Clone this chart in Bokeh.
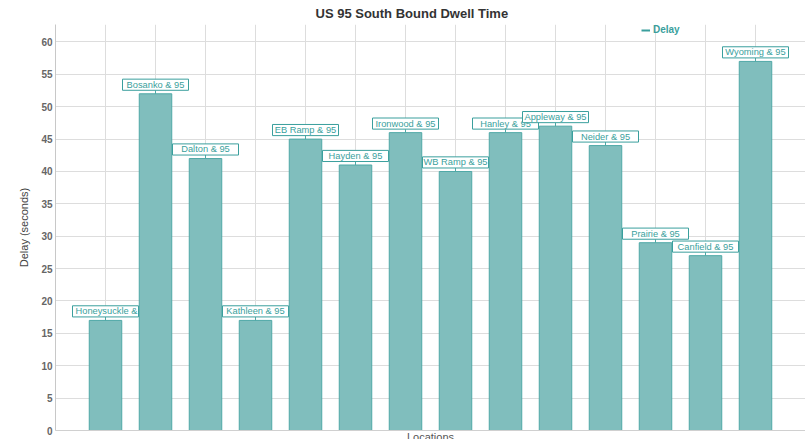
from bokeh.plotting import figure
from bokeh.models import (ColumnDataSource, CDSView, IndexFilter, Range1d,
                          FixedTicker, Legend, LegendItem)
from bokeh.embed import file_html
from bokeh.resources import INLINE
from bokeh.core.properties import value

locations = ["Honeysuckle & 95", "Bosanko & 95", "Dalton & 95", "Kathleen & 95",
             "EB Ramp & 95", "Hayden & 95", "Ironwood & 95", "WB Ramp & 95",
             "Hanley & 95", "Appleway & 95", "Neider & 95", "Prairie & 95",
             "Canfield & 95", "Wyoming & 95"]
delay = [17, 52, 42, 17, 45, 41, 46, 40, 46, 47, 44, 29, 27, 57]
positions = list(range(1, len(locations) + 1))
y_ticks = list(range(0, 61, 5))
x_grid = list(range(0, len(locations) + 2))

FONT = "Liberation Sans"
FILL = "#80bebd"
EDGE = "#4fa8a6"
TEAL = "#3a9f9d"

# label box style (fixed-width boxes, like the original tooltips)
BOX_W = 66          # px
GAP = 0.54          # data units between bar top and box
BOX_H = 1.72        # data units
MAX_CHARS = 14      # longer labels overflow and are left-aligned in the box

src = ColumnDataSource(dict(
    x=positions, loc=locations, delay=delay,
    tick_top=[d + GAP for d in delay],
    box_y=[d + GAP + BOX_H / 2 for d in delay],
))

p = figure(width=805, height=445, output_backend="svg", toolbar_location=None,
           x_range=Range1d(0, len(locations) + 1), y_range=Range1d(0, 62.7),
           min_border_left=55, min_border_right=0, min_border_top=5,
           min_border_bottom=0)
p.outline_line_color = None
p.background_fill_color = "white"
p.border_fill_color = "white"

p.title.text = "US 95 South Bound Dwell Time"
p.title.text_font = FONT
p.title.text_font_size = "13px"
p.title.text_font_style = "bold"
p.title.text_color = "#333333"
p.title.align = "left"
p.title.offset = 260
p.title.standoff = 7

for i in range(len(locations)):
    view = CDSView(filter=IndexFilter([i]))
    p.vbar(x="x", top="delay", bottom=0, width=0.65, source=src, view=view,
           fill_color=FILL, line_color=EDGE, line_width=1)
    p.segment(x0="x", y0="delay", x1="x", y1="tick_top", source=src, view=view,
              line_color=EDGE, line_width=1)
    p.rect(x="x", y="box_y", width=BOX_W, height=BOX_H, width_units="screen",
           source=src, view=view, fill_color="white", line_color=TEAL,
           line_width=1)
    overflow = len(locations[i]) > MAX_CHARS
    p.text(x="x", y="box_y", text="loc", source=src, view=view,
           text_align="left" if overflow else "center",
           x_offset=-(BOX_W // 2) + 3 if overflow else 0,
           text_baseline="middle",
           text_font=value(FONT), text_font_size="9.3px", text_color=TEAL)

# legend swatch: a hidden line over the same series, shown only in the legend
leg_line = p.line(x="x", y="delay", source=src, line_color=TEAL,
                  line_width=2, visible=False)
legend = Legend(items=[LegendItem(label="Delay", renderers=[leg_line])],
                location=(586, 395), glyph_width=9, glyph_height=10,
                label_text_font=FONT, label_text_font_size="10px",
                label_text_font_style="bold", label_text_color=TEAL,
                border_line_color=None, background_fill_alpha=0,
                inactive_fill_alpha=0, click_policy="none",
                padding=0, margin=0, label_standoff=3, spacing=0,
                label_height=10)
p.add_layout(legend)

# grids
p.xgrid.ticker = FixedTicker(ticks=x_grid)
p.ygrid.ticker = FixedTicker(ticks=y_ticks)
p.xgrid.grid_line_color = "#dddddd"
p.ygrid.grid_line_color = "#dddddd"

# x axis
p.xaxis.ticker = FixedTicker(ticks=x_grid)
p.xaxis.major_label_text_font_size = "0px"
p.xaxis.major_tick_line_color = None
p.xaxis.major_tick_out = 0
p.xaxis.minor_tick_line_color = None
p.xaxis.major_label_standoff = 0
p.xaxis.axis_line_color = "#d0d0d0"
p.xaxis.axis_label = "Locations"
p.xaxis.axis_label_text_font = FONT
p.xaxis.axis_label_text_font_size = "11px"
p.xaxis.axis_label_text_font_style = "normal"
p.xaxis.axis_label_text_color = "#555555"
p.xaxis.axis_label_standoff = 0

# y axis
p.yaxis.ticker = FixedTicker(ticks=y_ticks)
p.yaxis.major_tick_line_color = None
p.yaxis.major_tick_out = 0
p.yaxis.major_tick_in = 0
p.yaxis.minor_tick_line_color = None
p.yaxis.axis_line_color = "#c8c8c8"
p.yaxis.major_label_text_font = FONT
p.yaxis.major_label_text_font_size = "10px"
p.yaxis.major_label_text_font_style = "bold"
p.yaxis.major_label_text_color = "#666666"
p.yaxis.major_label_standoff = 3
p.yaxis.axis_label = "Delay (seconds)"
p.yaxis.axis_label_text_font = FONT
p.yaxis.axis_label_text_font_size = "11px"
p.yaxis.axis_label_text_font_style = "normal"
p.yaxis.axis_label_text_color = "#444444"
p.yaxis.axis_label_standoff = 8

open("out.html", "w").write(file_html(p, INLINE))
